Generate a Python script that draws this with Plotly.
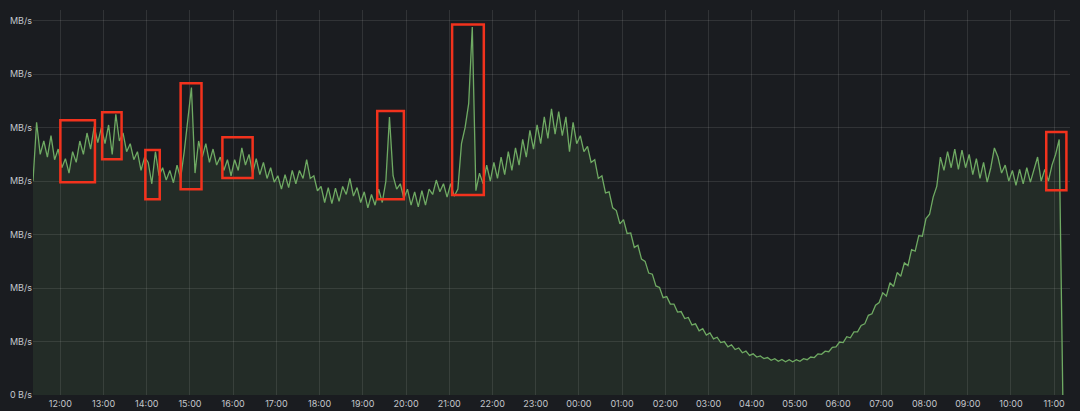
import pandas as pd
import plotly.graph_objects as go

# ---- data: throughput in MB/s, one value every 5 minutes, starting 11:22 ----
start_time = "2023-05-10 11:22"
step = "5min"

h11a = [4.0, 5.1, 4.5, 4.75, 4.45, 4.85, 4.4, 4.6]
h12 = [4.25, 4.42, 4.15, 4.55, 4.35, 4.75, 4.5, 4.9, 4.6, 5.02, 4.72, 5.0]
h13 = [4.7, 5.05, 4.5, 5.25, 4.75, 4.9, 4.55, 4.7, 4.4, 4.55, 4.2, 4.45]
h14 = [4.35, 3.95, 4.55, 4.1, 4.25, 4.02, 4.2, 3.97, 4.3, 4.05, 4.55, 5.1]
h15 = [5.75, 4.15, 4.75, 4.45, 4.7, 4.35, 4.6, 4.3, 4.45, 4.2, 4.4, 4.1]
h16 = [4.4, 4.2, 4.62, 4.3, 4.5, 4.15, 4.42, 4.12, 4.35, 4.05, 4.25, 3.98]
h17 = [4.1, 3.85, 4.12, 3.88, 4.2, 3.95, 4.2, 4.05, 4.4, 4.05, 4.1, 3.82]
h18 = [3.9, 3.6, 3.88, 3.58, 3.87, 3.62, 3.9, 3.75, 4.05, 3.72, 3.88, 3.6]
h19 = [3.8, 3.5, 3.75, 3.55, 3.85, 3.6, 4.0, 5.2, 4.1, 3.85, 3.95, 3.68]
h20 = [3.85, 3.55, 3.8, 3.52, 3.82, 3.55, 3.85, 3.75, 4.02, 3.8, 3.95, 3.7]
h21 = [3.95, 3.72, 3.85, 4.7, 5.0, 5.45, 6.88, 3.82, 4.15, 3.95, 4.3, 4.0]
h22 = [4.35, 4.05, 4.45, 4.12, 4.55, 4.2, 4.62, 4.3, 4.78, 4.45, 4.95, 4.6]
h23 = [5.05, 4.7, 5.2, 4.8, 5.35, 4.88, 5.3, 4.85, 5.2, 4.55, 5.1, 4.7]
h00 = [4.85, 4.55, 4.65, 4.35, 4.4, 4.05, 4.1, 3.78, 3.8, 3.5, 3.45, 3.2]
h01 = [3.28, 3.02, 3.03, 2.76, 2.80, 2.54, 2.50, 2.28, 2.26, 2.04, 2.01, 1.82]
h02 = [1.84, 1.70, 1.70, 1.55, 1.56, 1.43, 1.45, 1.31, 1.33, 1.20, 1.24, 1.12]
h03 = [1.16, 1.05, 1.08, 0.98, 1.00, 0.90, 0.94, 0.85, 0.88, 0.79, 0.82, 0.74]
h04 = [0.77, 0.71, 0.73, 0.68, 0.70, 0.65, 0.68, 0.63, 0.665, 0.62, 0.66, 0.62]
h05 = [0.66, 0.63, 0.68, 0.66, 0.71, 0.70, 0.77, 0.76, 0.82, 0.81, 0.89, 0.90]
h06 = [0.99, 0.98, 1.09, 1.07, 1.18, 1.18, 1.30, 1.33, 1.49, 1.52, 1.68, 1.73]
h07 = [1.91, 1.85, 2.10, 2.03, 2.29, 2.22, 2.47, 2.42, 2.72, 2.69, 2.98, 2.97]
h08 = [3.3, 3.38, 3.7, 3.9, 4.45, 4.2, 4.55, 4.25, 4.6, 4.22, 4.58, 4.25]
h09 = [4.5, 4.12, 4.42, 4.05, 4.35, 3.98, 4.25, 4.62, 4.45, 4.15, 4.3, 4.0]
h10 = [4.2, 3.92, 4.22, 3.95, 4.25, 3.98, 4.2, 4.45, 4.0, 4.22, 4.0, 4.3]
h11b = [4.5, 4.78, 0.0]

y_tick_values = [0, 1, 2, 3, 4, 5, 6, 7]
y_tick_labels = ["0 B/s", "MB/s", "MB/s", "MB/s", "MB/s", "MB/s", "MB/s", "MB/s"]

# highlighted regions (start, end, low, high)
highlights = [
    ("2023-05-10 12:00", "2023-05-10 12:48", 3.98, 5.14),
    ("2023-05-10 12:58", "2023-05-10 13:25", 4.41, 5.29),
    ("2023-05-10 13:58", "2023-05-10 14:18", 3.66, 4.58),
    ("2023-05-10 14:47", "2023-05-10 15:16", 3.85, 5.83),
    ("2023-05-10 15:45", "2023-05-10 16:27", 4.06, 4.82),
    ("2023-05-10 19:20", "2023-05-10 19:57", 3.66, 5.31),
    ("2023-05-10 21:04", "2023-05-10 21:48", 3.74, 6.93),
    ("2023-05-11 10:49", "2023-05-11 11:17", 3.83, 4.92),
]

values = (h11a + h12 + h13 + h14 + h15 + h16 + h17 + h18 + h19 + h20 + h21 + h22
          + h23 + h00 + h01 + h02 + h03 + h04 + h05 + h06 + h07 + h08 + h09 + h10 + h11b)
times = pd.date_range(start_time, periods=len(values), freq=step)

BG = "#1a1c20"
GRID = "rgba(255,255,255,0.10)"
TXT = "#c4c7cc"

fig = go.Figure()
fig.add_trace(go.Scatter(
    x=times, y=values, mode="lines",
    line=dict(color="#6faa63", width=1.3),
    fill="tozeroy", fillcolor="rgba(115,191,105,0.10)",
    hoverinfo="skip", showlegend=False,
))

for x0, x1, y0, y1 in highlights:
    fig.add_shape(type="rect", xref="x", yref="y", x0=x0, x1=x1, y0=y0, y1=y1,
                  line=dict(color="#f2321d", width=2.5), fillcolor="rgba(0,0,0,0)")

fig.update_layout(
    width=1080, height=411,
    margin=dict(l=33, r=10, t=10, b=16),
    paper_bgcolor=BG, plot_bgcolor=BG,
    font=dict(family="Inter, Roboto, sans-serif", size=9, color=TXT),
    showlegend=False,
)
fig.update_xaxes(
    type="date",
    range=["2023-05-10 11:22", "2023-05-11 11:22"],
    tick0="2023-05-10 12:00", dtick=3600000, tickformat="%H:%M",
    showgrid=True, gridcolor=GRID, gridwidth=1,
    zeroline=False, showline=False, ticks="", automargin=False,
    tickfont=dict(size=9, color=TXT), ticklabelstandoff=2,
)
fig.update_yaxes(
    range=[0, 7.2],
    tickmode="array", tickvals=y_tick_values, ticktext=y_tick_labels,
    showgrid=True, gridcolor=GRID, gridwidth=1,
    zeroline=False, showline=False, ticks="", automargin=False,
    tickfont=dict(size=9, color=TXT),
)

fig.write_html(
    "out.html",
    config={"displayModeBar": False},
    post_script="document.body.style.margin='0';document.body.style.background='#1a1c20';",
)
